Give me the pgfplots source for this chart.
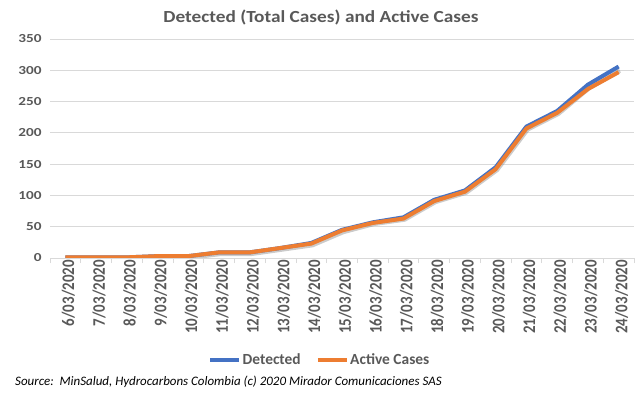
\documentclass[border=0pt]{standalone}
\usepackage{graphicx}
\usepackage{pgfplots}
\pgfplotsset{compat=1.18}
\usepackage{fontspec}
\setmainfont{Carlito}
\definecolor{det}{HTML}{4472C4}
\definecolor{act}{HTML}{ED7D31}
\definecolor{txt}{HTML}{595959}
\definecolor{gridc}{HTML}{D9D9D9}
\newcommand\xl[1]{\scalebox{1}[1.18]{#1}}
\begin{document}
\begin{tikzpicture}
\path[use as bounding box] (0,0) rectangle (640bp,395bp);
\begin{axis}[
  at={(50bp,137bp)}, anchor=south west,
  scale only axis, width=584bp, height=219bp,
  xmin=-0.5, xmax=18.5, ymin=0, ymax=350,
  ytick={0,50,...,350},
  xtick={0,...,18},
  xticklabels={\xl{6/03/2020},\xl{7/03/2020},\xl{8/03/2020},\xl{9/03/2020},\xl{10/03/2020},\xl{11/03/2020},\xl{12/03/2020},\xl{13/03/2020},\xl{14/03/2020},\xl{15/03/2020},\xl{16/03/2020},\xl{17/03/2020},\xl{18/03/2020},\xl{19/03/2020},\xl{20/03/2020},\xl{21/03/2020},\xl{22/03/2020},\xl{23/03/2020},\xl{24/03/2020}},
  minor xtick={-0.5,0.5,...,18.5},
  ymajorgrids, grid style={gridc, line width=0.75bp},
  axis x line*=bottom, axis y line*=left,
  separate axis lines,
  x axis line style={gridc, line width=0.75bp, -},
  y axis line style={draw=none},
  major tick length=0pt,
  minor tick length=5bp,
  every minor tick/.style={gridc, line width=0.75bp},
  xtick style={draw=none},
  minor x tick style={draw=gridc},
  tick align=outside,
  /pgf/number format/assume math mode=true,
  yticklabel={\scalebox{1.24}[1]{\pgfmathprintnumber{\tick}}},
  yticklabel style={font=\fontsize{12.3}{14}\selectfont\bfseries, text=txt, xshift=-5bp},
  xticklabel style={font=\fontsize{15}{17}\selectfont\bfseries, text=txt, rotate=90, anchor=east, yshift=-3bp, inner sep=2bp},
  legend style={at={(0.462,-0.466)}, anchor=center, legend columns=2, draw=none,
     font=\fontsize{15.5}{17}\selectfont\bfseries, text=txt, inner sep=1bp,
     /tikz/every even column/.append style={column sep=14bp},
     nodes={inner xsep=1.5bp}},
  legend image code/.code={\draw[#1, line width=3.5bp] (0bp,0bp) -- (29bp,0bp);},
]
\addplot[black!45, opacity=0.45, line width=4.5bp, xshift=1.2bp, yshift=-1.5bp, forget plot] coordinates {
(0,1)(1,1)(2,1)(3,3)(4,3)(5,9)(6,9)(7,16)(8,23)(9,44)(10,57)(11,64)(12,92)(13,107)(14,143)(15,208)(16,233)(17,274)(18,302)};
\addplot[det, line width=4bp] coordinates {
(0,1)(1,1)(2,1)(3,3)(4,3)(5,9)(6,9)(7,16)(8,24)(9,45)(10,57)(11,65)(12,93)(13,108)(14,145)(15,210)(16,235)(17,277)(18,306)};
\addlegendentry{Detected}
\addplot[act, line width=4bp] coordinates {
(0,1)(1,1)(2,1)(3,3)(4,3)(5,9)(6,9)(7,16)(8,23)(9,44)(10,56)(11,63)(12,91)(13,106)(14,142)(15,207)(16,232)(17,270)(18,297)};
\addlegendentry{Active Cases}
\end{axis}
\node[font=\fontsize{17}{19}\selectfont\bfseries, text=txt] at (321bp,377bp) {\scalebox{1.14}[1]{Detected (Total Cases) and Active Cases}};
\node[font=\fontsize{13}{15}\selectfont\itshape, anchor=west, inner sep=0pt] at (15bp,13bp) {Source:\ \ MinSalud, Hydrocarbons Colombia (c) 2020 Mirador Comunicaciones SAS};
\end{tikzpicture}
\end{document}
